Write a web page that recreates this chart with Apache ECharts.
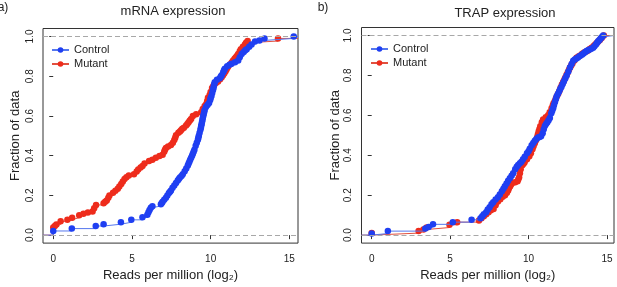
<!DOCTYPE html>
<html>
<head>
<meta charset="utf-8">
<script src="https://cdn.jsdelivr.net/npm/echarts@6/dist/echarts.min.js"></script>
<style>html,body{margin:0;padding:0;background:#fff}#c{width:617px;height:287px}</style>
</head>
<body>
<div id="c"></div>
<script>
// ---- data (x = log2 reads per million, y = fraction of data) ----
const seriesNames = ['Control', 'Mutant'];
const xTicks = [0, 5, 10, 15];
const yTicks = [0, 0.2, 0.4, 0.6, 0.8, 1.0];
const yTickLabels = ['0.0', '0.2', '0.4', '0.6', '0.8', '1.0'];
const panelTitles = ['mRNA expression', 'TRAP expression'];
const panelTags = ['a)', 'b)'];

const mrnaControl = [[0,0.021],[1.18,0.033],[2.7,0.046],[3.2,0.055],[4.3,0.065],[4.96,0.077],[5.67,0.09],[5.98,0.103],[6.05,0.115],[6.12,0.127],[6.2,0.138],[6.3,0.146],[6.84,0.155],[6.9,0.162],[6.95,0.168],[7.05,0.178],[7.16,0.188],[7.25,0.2],[7.35,0.212],[7.42,0.218],[7.48,0.225],[7.58,0.238],[7.69,0.25],[7.8,0.262],[7.91,0.275],[7.98,0.282],[8.05,0.29],[8.15,0.298],[8.23,0.307],[8.35,0.322],[8.45,0.335],[8.55,0.35],[8.6,0.36],[8.65,0.37],[8.7,0.38],[8.76,0.39],[8.82,0.4],[8.87,0.41],[8.92,0.42],[8.97,0.43],[9.05,0.45],[9.12,0.465],[9.19,0.48],[9.22,0.49],[9.25,0.5],[9.3,0.515],[9.35,0.53],[9.38,0.54],[9.4,0.55],[9.43,0.56],[9.45,0.57],[9.48,0.58],[9.5,0.59],[9.53,0.6],[9.56,0.61],[9.59,0.62],[9.62,0.63],[9.7,0.645],[9.8,0.655],[9.9,0.665],[9.97,0.68],[10.0,0.69],[10.05,0.7],[10.1,0.715],[10.15,0.73],[10.18,0.74],[10.2,0.75],[10.23,0.76],[10.26,0.77],[10.4,0.782],[10.58,0.79],[10.65,0.798],[10.7,0.805],[10.8,0.82],[10.85,0.83],[10.9,0.838],[11.05,0.85],[11.2,0.858],[11.33,0.863],[11.55,0.87],[11.75,0.879],[11.85,0.895],[11.97,0.912],[12.1,0.922],[12.2,0.93],[12.29,0.936],[12.45,0.948],[12.6,0.96],[12.82,0.974],[13.1,0.98],[13.42,0.99],[15.28,1.0]];
const mrnaMutant = [[0,0.038],[0.1,0.046],[0.2,0.054],[0.47,0.07],[0.9,0.078],[1.2,0.088],[1.65,0.1],[1.92,0.108],[2.2,0.114],[2.5,0.119],[2.6,0.136],[2.72,0.152],[3.2,0.16],[3.3,0.168],[3.4,0.175],[3.5,0.188],[3.57,0.2],[3.8,0.214],[3.95,0.224],[4.1,0.234],[4.2,0.245],[4.32,0.258],[4.42,0.27],[4.53,0.283],[4.65,0.292],[4.8,0.3],[5.13,0.307],[5.3,0.32],[5.4,0.33],[5.55,0.34],[5.67,0.348],[5.8,0.36],[6.09,0.373],[6.3,0.38],[6.52,0.389],[6.75,0.398],[6.95,0.405],[7.05,0.42],[7.1,0.43],[7.16,0.438],[7.3,0.446],[7.48,0.454],[7.6,0.465],[7.69,0.479],[7.75,0.49],[7.8,0.503],[7.95,0.515],[8.05,0.522],[8.12,0.528],[8.2,0.535],[8.3,0.54],[8.44,0.552],[8.52,0.56],[8.6,0.568],[8.68,0.577],[8.76,0.585],[8.87,0.6],[9.08,0.609],[9.4,0.618],[9.5,0.635],[9.62,0.65],[9.72,0.66],[9.78,0.675],[9.83,0.691],[9.94,0.705],[10.0,0.72],[10.09,0.74],[10.17,0.75],[10.25,0.76],[10.35,0.767],[10.47,0.773],[10.6,0.785],[10.7,0.795],[10.79,0.805],[10.87,0.815],[10.95,0.825],[11.02,0.835],[11.1,0.846],[11.25,0.86],[11.35,0.87],[11.43,0.879],[11.52,0.888],[11.6,0.895],[11.68,0.903],[11.75,0.912],[11.85,0.925],[11.92,0.936],[12.05,0.948],[12.18,0.96],[12.25,0.968],[12.35,0.977],[14.28,0.99]];
const trapControl = [[0,0.008],[1.03,0.02],[3.42,0.033],[3.63,0.041],[3.91,0.054],[5.17,0.065],[6.37,0.077],[6.94,0.085],[7.05,0.095],[7.15,0.105],[7.3,0.115],[7.4,0.128],[7.52,0.14],[7.64,0.155],[7.75,0.165],[7.9,0.178],[8.05,0.19],[8.17,0.204],[8.3,0.22],[8.4,0.232],[8.49,0.245],[8.6,0.258],[8.7,0.272],[8.81,0.285],[8.92,0.298],[9.02,0.31],[9.15,0.33],[9.25,0.342],[9.34,0.351],[9.45,0.36],[9.55,0.367],[9.65,0.38],[9.76,0.392],[9.9,0.41],[10.0,0.42],[10.08,0.432],[10.2,0.45],[10.3,0.462],[10.4,0.473],[10.5,0.482],[10.61,0.489],[10.7,0.492],[10.8,0.495],[10.9,0.51],[10.97,0.53],[11.04,0.547],[11.12,0.556],[11.2,0.565],[11.28,0.576],[11.36,0.587],[11.45,0.61],[11.51,0.623],[11.57,0.636],[11.62,0.65],[11.68,0.665],[11.74,0.68],[11.79,0.694],[11.87,0.707],[11.95,0.72],[12.02,0.732],[12.1,0.743],[12.18,0.757],[12.25,0.77],[12.34,0.785],[12.43,0.8],[12.54,0.82],[12.64,0.84],[12.75,0.857],[12.85,0.873],[12.95,0.88],[13.05,0.885],[13.15,0.89],[13.27,0.897],[13.4,0.904],[13.5,0.91],[13.6,0.916],[13.7,0.922],[13.8,0.926],[13.9,0.93],[14.0,0.934],[14.12,0.938],[14.2,0.946],[14.3,0.955],[14.37,0.963],[14.44,0.971],[14.52,0.978],[14.6,0.985],[14.68,0.992],[14.76,1.0]];
const trapMutant = [[0,0.01],[2.99,0.02],[3.3,0.028],[3.5,0.038],[4.96,0.052],[5.45,0.065],[6.84,0.073],[7.0,0.085],[7.15,0.095],[7.3,0.105],[7.45,0.115],[7.6,0.125],[7.77,0.131],[7.9,0.15],[8.05,0.168],[8.2,0.18],[8.35,0.192],[8.5,0.2],[8.62,0.212],[8.7,0.224],[8.75,0.235],[8.82,0.244],[8.88,0.252],[9.0,0.262],[9.15,0.265],[9.3,0.27],[9.35,0.28],[9.4,0.29],[9.45,0.31],[9.5,0.33],[9.6,0.35],[9.68,0.358],[9.75,0.365],[9.9,0.38],[10.05,0.395],[10.15,0.41],[10.25,0.43],[10.32,0.445],[10.4,0.46],[10.48,0.475],[10.55,0.49],[10.6,0.505],[10.65,0.52],[10.7,0.532],[10.75,0.545],[10.85,0.565],[10.93,0.579],[11.1,0.59],[11.25,0.6],[11.35,0.615],[11.47,0.636],[11.55,0.65],[11.6,0.66],[11.68,0.672],[11.75,0.685],[11.82,0.698],[11.9,0.71],[11.98,0.725],[12.05,0.74],[12.13,0.754],[12.21,0.767],[12.28,0.778],[12.35,0.79],[12.43,0.803],[12.5,0.815],[12.58,0.828],[12.65,0.84],[12.72,0.85],[12.8,0.86],[12.93,0.875],[13.06,0.889],[13.18,0.895],[13.3,0.9],[13.42,0.908],[13.55,0.915],[13.68,0.92],[13.8,0.925],[13.9,0.932],[14.02,0.938],[14.15,0.947],[14.25,0.955],[14.35,0.962],[14.45,0.97],[14.55,0.978],[14.66,0.987],[14.8,1.0]];

// ---- styling ----
const FONT = '"Liberation Sans", Arial, sans-serif';
const BLUE = '#1f3ff2', BLUE_LINE = '#5577ee';
const RED = '#ee2c1c', RED_LINE = '#e2503e';
const X_RANGE = [[-0.65, 15.55], [-0.65, 15.45]];
const Y_RANGE = [-0.04, 1.04];

function ecdfData(points, xr) {
  const out = [{ value: [xr[0], 0], symbol: 'none' }];
  points.forEach(p => out.push(p));
  out.push({ value: [xr[1], points[points.length - 1][1]], symbol: 'none' });
  return out;
}
function stepSeries(name, points, idx, col, lineCol, z) {
  return {
    type: 'line', name, xAxisIndex: idx, yAxisIndex: idx, step: 'end',
    data: ecdfData(points, X_RANGE[idx]),
    symbol: 'circle', symbolSize: 6.5, z,
    itemStyle: { color: col },
    lineStyle: { color: lineCol, width: 1 },
    emphasis: { disabled: true }, animation: false
  };
}
function refLines(idx) {
  return {
    type: 'line', xAxisIndex: idx, yAxisIndex: idx, data: [], silent: true, z: 1,
    markLine: {
      silent: true, symbol: 'none', label: { show: false }, animation: false,
      lineStyle: { color: '#a8a8a8', width: 1, type: [5, 3] },
      data: [{ yAxis: 0 }, { yAxis: 1 }]
    }
  };
}
const grids = [
  { left: 43, right: 319, top: 28.5, bottom: 38.5 },
  { left: 361.5, right: 3, top: 27.5, bottom: 39 }
];
const xAxes = [0, 1].map(i => ({
  type: 'value', gridIndex: i, min: X_RANGE[i][0], max: X_RANGE[i][1],
  axisLine: { show: false }, splitLine: { show: false },
  axisTick: { show: true, length: 4, customValues: xTicks, lineStyle: { color: '#333' } },
  axisLabel: { customValues: xTicks, margin: 11, fontSize: 10, color: '#222', fontFamily: FONT },
  name: 'Reads per million (log\u2082)', nameLocation: 'middle', nameGap: 21,
  nameTextStyle: { fontSize: 13, color: '#222', fontFamily: FONT }
}));
const yAxes = [0, 1].map(i => ({
  type: 'value', gridIndex: i, min: Y_RANGE[0], max: Y_RANGE[1],
  axisLine: { show: false }, splitLine: { show: false },
  axisTick: { show: true, length: 4, customValues: yTicks, lineStyle: { color: '#333' } },
  axisLabel: {
    customValues: yTicks, rotate: 90, margin: 8, fontSize: 10, color: '#222', fontFamily: FONT,
    formatter: v => { const k = yTicks.findIndex(t => Math.abs(t - v) < 1e-9); return k >= 0 ? yTickLabels[k] : ''; }
  },
  name: 'Fraction of data', nameLocation: 'middle', nameGap: i === 0 ? 21 : 20,
  nameTextStyle: { fontSize: 13, color: '#222', fontFamily: FONT }
}));
const legendCommon = {
  orient: 'vertical', data: seriesNames, padding: 0, itemGap: 1,
  itemWidth: 17, itemHeight: 7, selectedMode: false,
  textStyle: { fontSize: 11, color: '#222', fontFamily: FONT, lineHeight: 13 },
  lineStyle: { width: 2 }
};
function textEl(x, y, text, size) {
  return { type: 'text', x, y, silent: true,
    style: { text, font: size + 'px ' + FONT, fill: '#222',
      textAlign: 'center', textVerticalAlign: 'middle', align: 'center', verticalAlign: 'middle' } };
}
const chart = echarts.init(document.getElementById('c'), null, { renderer: 'canvas' });
chart.setOption({
  animation: false,
  grid: grids.map(g => Object.assign({ show: true, borderColor: '#333', borderWidth: 1, backgroundColor: 'transparent' }, g)),
  xAxis: xAxes,
  yAxis: yAxes,
  legend: [
    Object.assign({ left: 51, top: 43.5 }, legendCommon),
    Object.assign({ left: 370, top: 42.5 }, legendCommon)
  ],
  graphic: [
    textEl(173, 11, panelTitles[0], 13),
    textEl(505, 13, panelTitles[1], 13),
    textEl(3, 8, panelTags[0], 12),
    textEl(323, 8, panelTags[1], 12)
  ],
  series: [
    refLines(0), refLines(1),
    stepSeries(seriesNames[1], mrnaMutant, 0, RED, RED_LINE, 2),
    stepSeries(seriesNames[0], mrnaControl, 0, BLUE, BLUE_LINE, 3),
    stepSeries(seriesNames[1], trapMutant, 1, RED, RED_LINE, 2),
    stepSeries(seriesNames[0], trapControl, 1, BLUE, BLUE_LINE, 3)
  ]
});
</script>
</body>
</html>
